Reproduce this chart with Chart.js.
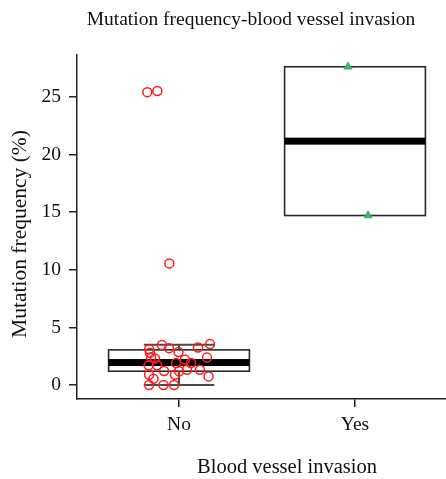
<!DOCTYPE html>
<html><head><meta charset="utf-8">
<script src="https://cdn.jsdelivr.net/npm/chart.js@4/dist/chart.umd.min.js"></script>
<style>html,body{margin:0;padding:0;background:#fff;overflow:hidden;width:446px;height:479px}</style>
</head><body>
<canvas id="c" width="452" height="479"></canvas>
<script>
// ---- data ----
const categories = ['No', 'Yes'];
const yTicks = [0, 5, 10, 15, 20, 25];
const whiskerLow  = [0.0, 14.7];
const boxQ1       = [1.2, 14.7];
const boxMedian   = [1.95, 21.15];
const boxQ3       = [3.05, 27.6];
const whiskerHigh = [3.5, 27.6];
// "No" group: jittered x position around category 1, and mutation frequency (%)
const noX = [0.903, 0.943, 0.830, 1.108, 1.176, 0.997, 0.835, 0.841, 0.864, 1.159,
             1.034, 0.827, 0.875, 0.983, 1.068, 0.915, 1.045, 1.000, 0.977, 1.119,
             0.830, 0.855, 1.168, 0.830, 0.912, 0.972, 0.820, 0.877, 0.945];
const noY = [3.47, 3.20, 3.10, 3.25, 3.55, 2.87, 2.80, 2.42, 2.30, 2.38,
             2.22, 1.72, 1.72, 1.91, 1.91, 1.22, 1.33, 1.20, 0.90, 1.33,
             0.90, 0.55, 0.75, 0.00, 0.00, 0.00, 25.4, 25.5, 10.55];
// "Yes" group
const yesX = [1.960, 2.074];
const yesY = [27.6, 14.7];

const titleText = 'Mutation frequency-blood vessel invasion';
const xTitle = 'Blood vessel invasion';
const yTitle = 'Mutation frequency (%)';
const FONT = '"Liberation Serif", "Times New Roman", serif';

const boxPlugin = {
  id: 'boxes',
  beforeDatasetsDraw(chart) {
    const { ctx, scales: { x, y } } = chart;
    ctx.save();
    categories.forEach((c, i) => {
      const cx = x.getPixelForValue(i + 1);
      const hw = x.getPixelForValue(i + 1.4) - cx;
      const capw = hw / 2;
      const yq1 = y.getPixelForValue(boxQ1[i]);
      const yq3 = y.getPixelForValue(boxQ3[i]);
      const ymed = y.getPixelForValue(boxMedian[i]);
      const ylo = y.getPixelForValue(whiskerLow[i]);
      const yhi = y.getPixelForValue(whiskerHigh[i]);
      ctx.strokeStyle = '#4a4a4a';
      ctx.lineWidth = 2;
      ctx.beginPath();
      if (whiskerHigh[i] > boxQ3[i]) {
        ctx.moveTo(cx, yq3); ctx.lineTo(cx, yhi);
        ctx.moveTo(cx - capw, yhi); ctx.lineTo(cx + capw, yhi);
      }
      if (whiskerLow[i] < boxQ1[i]) {
        ctx.moveTo(cx, yq1); ctx.lineTo(cx, ylo);
        ctx.moveTo(cx - capw, ylo); ctx.lineTo(cx + capw, ylo);
      }
      ctx.stroke();
      ctx.strokeStyle = '#2a2a2a';
      ctx.lineWidth = 1.6;
      ctx.strokeRect(cx - hw, yq3, 2 * hw, yq1 - yq3);
      ctx.fillStyle = '#000';
      ctx.fillRect(cx - hw, ymed - 3.5, 2 * hw, 7);
    });
    ctx.restore();
  },
  afterDraw(chart) {
    const { ctx } = chart;
    ctx.save();
    ctx.fillStyle = '#111';
    ctx.textAlign = 'center';
    ctx.textBaseline = 'middle';
    ctx.font = '19.5px ' + FONT;
    ctx.fillText(titleText, 251, 20);
    ctx.font = '20.5px ' + FONT;
    ctx.fillText(xTitle, 287, 468);
    ctx.font = '21.5px ' + FONT;
    ctx.translate(20, 234);
    ctx.rotate(-Math.PI / 2);
    ctx.fillText(yTitle, 0, 0);
    ctx.restore();
  }
};

new Chart(document.getElementById('c'), {
  type: 'scatter',
  data: {
    datasets: [
      {
        data: noX.map((v, i) => ({ x: v, y: noY[i] })),
        pointStyle: 'circle',
        pointRadius: 4.5,
        borderColor: '#ff1a1a',
        borderWidth: 1.5,
        backgroundColor: 'rgba(0,0,0,0)'
      },
      {
        data: yesX.map((v, i) => ({ x: v, y: yesY[i] })),
        pointStyle: 'triangle',
        pointRadius: 5.5,
        borderWidth: 0,
        borderColor: '#3cb46a',
        backgroundColor: '#3cb46a'
      }
    ]
  },
  options: {
    responsive: false,
    animation: false,
    events: [],
    layout: { padding: { top: 55, left: 0, right: 0, bottom: 0 } },
    plugins: { legend: { display: false }, tooltip: { enabled: false }, title: { display: false } },
    scales: {
      x: {
        type: 'linear',
        min: 0.4205,
        max: 2.517,
        afterFit(s) { s.height = 80; },
        afterBuildTicks(s) { s.ticks = [{ value: 1 }, { value: 2 }]; },
        border: { display: true, color: '#222', width: 1.5 },
        grid: { display: true, drawOnChartArea: false, drawTicks: true, tickLength: 8, color: '#222', lineWidth: 1.5 },
        ticks: { color: '#111', font: { family: FONT, size: 19.5 }, padding: 6, maxRotation: 0, callback: (v, i) => categories[i] }
      },
      y: {
        type: 'linear',
        min: -1.21,
        max: 28.62,
        afterFit(s) { s.width = 77; },
        afterBuildTicks(s) { s.ticks = yTicks.map(v => ({ value: v })); },
        border: { display: true, color: '#222', width: 1.5 },
        grid: { display: true, drawOnChartArea: false, drawTicks: true, tickLength: 8, color: '#222', lineWidth: 1.5 },
        ticks: { color: '#111', font: { family: FONT, size: 19.5 }, padding: 8, callback: (v) => String(v) }
      }
    }
  },
  plugins: [boxPlugin]
});
</script>
</body></html>
